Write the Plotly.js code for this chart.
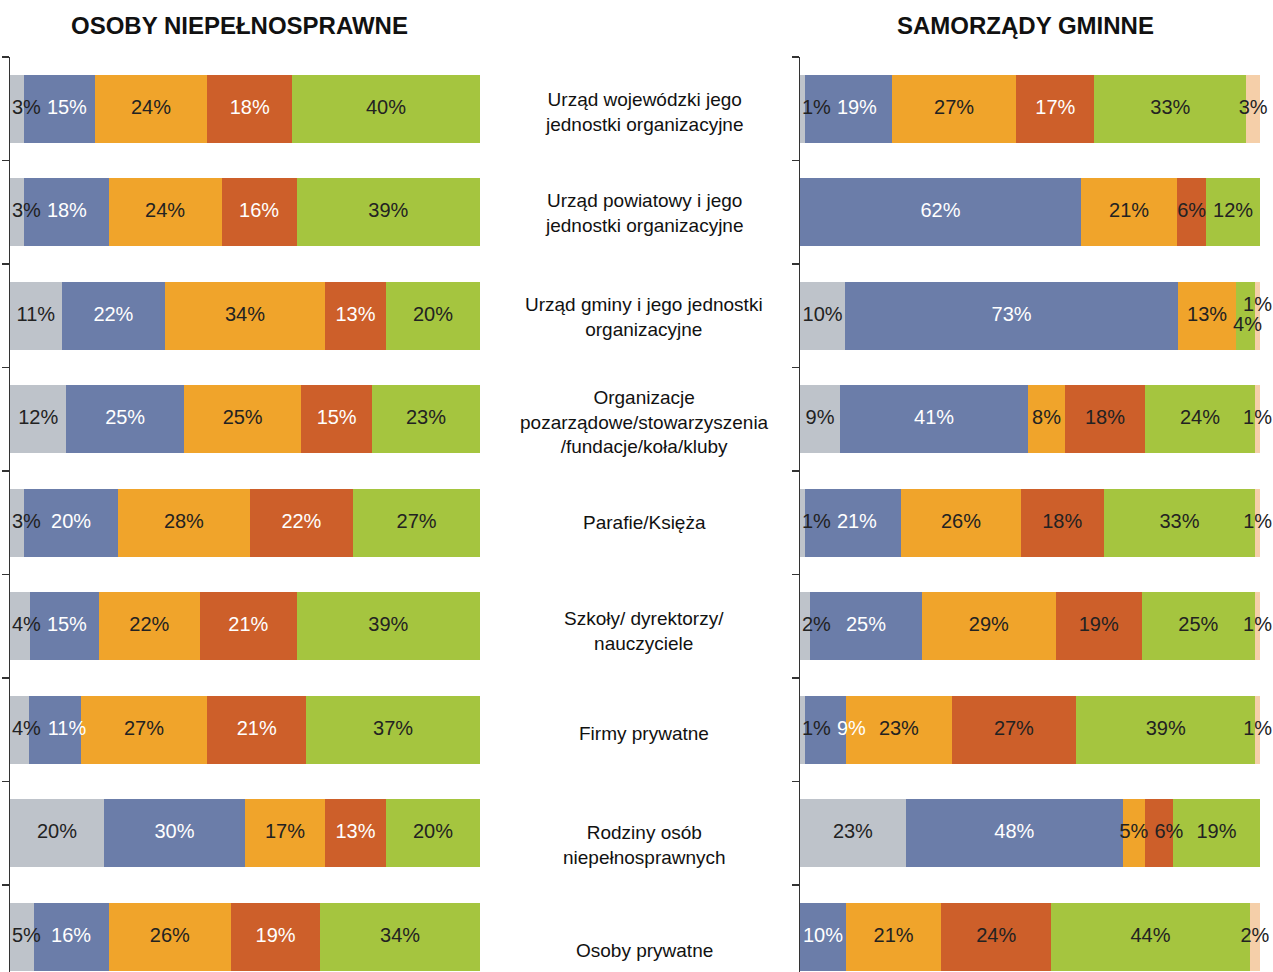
<!DOCTYPE html>
<html>
<head>
<meta charset="utf-8">
<script src="https://cdn.plot.ly/plotly-3.0.1.min.js"></script>
<style>html,body{margin:0;padding:0;background:#fff;}#chart{width:1273px;height:972px;}</style>
</head>
<body>
<div id="chart"></div>
<script>
// Category labels (middle column)
const categories = [
  "Urząd wojewódzki jego<br>jednostki organizacyjne",
  "Urząd powiatowy i jego<br>jednostki organizacyjne",
  "Urząd gminy i jego jednostki<br>organizacyjne",
  "Organizacje<br>pozarządowe/stowarzyszenia<br>/fundacje/koła/kluby",
  "Parafie/Księża",
  "Szkoły/ dyrektorzy/<br>nauczyciele",
  "Firmy prywatne",
  "Rodziny osób<br>niepełnosprawnych",
  "Osoby prywatne"
];
const panelTitles = ["OSOBY NIEPEŁNOSPRAWNE", "SAMORZĄDY GMINNE"];

// Left panel: OSOBY NIEPEŁNOSPRAWNE (segment widths, %)
const leftGrey   = [3, 3, 11, 12, 3, 4.2, 4, 20, 5];
const leftBlue   = [15, 18, 22, 25, 20, 14.7, 11, 30, 16];
const leftOrange = [24, 24, 34, 25, 28, 21.5, 27, 17, 26];
const leftRed    = [18, 16, 13, 15, 22, 20.6, 21, 13, 19];
const leftGreen  = [40, 39, 20, 23, 27, 39, 37, 20, 34];
// printed labels
const leftGreyLbl   = ["3%","3%","11%","12%","3%","4%","4%","20%","5%"];
const leftBlueLbl   = ["15%","18%","22%","25%","20%","15%","11%","30%","16%"];
const leftOrangeLbl = ["24%","24%","34%","25%","28%","22%","27%","17%","26%"];
const leftRedLbl    = ["18%","16%","13%","15%","22%","21%","21%","13%","19%"];
const leftGreenLbl  = ["40%","39%","20%","23%","27%","39%","37%","20%","34%"];

// Right panel: SAMORZĄDY GMINNE (segment widths, %)
const rightGrey   = [1, 0, 9.8, 8.7, 1, 2.2, 1, 23, 0];
const rightBlue   = [19, 61.1, 72.4, 40.9, 21, 24.3, 9, 47.2, 10];
const rightOrange = [27, 20.9, 12.6, 8.0, 26, 29.1, 23, 4.8, 20.7];
const rightRed    = [17, 6.3, 0, 17.4, 18, 18.7, 27, 6.1, 23.9];
const rightGreen  = [33, 11.7, 4.1, 23.9, 33, 24.6, 39, 18.9, 43.2];
const rightPeach  = [3, 0, 1.1, 1.1, 1, 1.1, 1, 0, 2.2];
// printed labels
const rightGreyLbl   = ["1%","","10%","9%","1%","2%","1%","23%",""];
const rightBlueLbl   = ["19%","62%","73%","41%","21%","25%","9%","48%","10%"];
const rightOrangeLbl = ["27%","21%","13%","8%","26%","29%","23%","5%","21%"];
const rightRedLbl    = ["17%","6%","","18%","18%","19%","27%","6%","24%"];
const rightGreenLbl  = ["33%","12%","4%","24%","33%","25%","39%","19%","44%"];
const rightPeachLbl  = ["3%","","1%","1%","1%","1%","1%","","2%"];

const C = {grey:"#BEC3CA", blue:"#6B7DA9", orange:"#F0A42B", red:"#CD5F2A", green:"#A5C53F", peach:"#F5CFA9"};
const DARK = "#222222", WHITE = "#FFFFFF";
const FONT = "'Liberation Sans', Arial, sans-serif";
const LBL_SIZE = 20;

const W = 1273, H = 972;
const LEFT_DOM = [10, 480], RIGHT_DOM = [800, 1260];
const pos = categories.map((_, i) => i);

function bar(vals, color, xa, ya) {
  return {
    type: "bar", orientation: "h",
    x: vals, y: pos, xaxis: xa, yaxis: ya,
    width: 0.66,
    marker: {color: color, line: {width: 0}},
    hoverinfo: "none", showlegend: false
  };
}

// Label layer: positioned at segment centres (from data), nudged to avoid overlaps
function labels(series, xa, ya, dom) {
  const ppu = (dom[1] - dom[0]) / 100;
  const GAP = 6;
  const xs = [], ys = [], ts = [], tp = [], tc = [];
  const textW = s => (s.length - 1) * 11.1 + 17.8;
  for (let i = 0; i < pos.length; i++) {
    let cum = 0, prevRight = 2 / ppu - GAP / ppu, prevIdx = -1;
    series.forEach(s => {
      const v = s.vals[i], t = s.lbl[i];
      const center = cum + v / 2;
      cum += v;
      if (!t) return;
      const hw = textW(t) / 2 / ppu;
      let x = Math.max(center, prevRight + GAP / ppu + hw);
      let p = "middle center";
      if (x > center + 0.01 && x + hw > 100 + 10 / ppu && prevIdx >= 0) {
        x = center; p = "top center";
        tp[prevIdx] = "bottom center";
      }
      xs.push(x); ys.push(i); ts.push(t); tp.push(p);
      tc.push(Array.isArray(s.col) ? s.col[i] : s.col);
      prevIdx = xs.length - 1;
      prevRight = x + hw;
    });
  }
  return {
    type: "scatter", mode: "text", x: xs, y: ys, text: ts,
    textposition: tp, xaxis: xa, yaxis: ya,
    textfont: {family: FONT, size: LBL_SIZE, color: tc},
    cliponaxis: false, hoverinfo: "none", showlegend: false
  };
}

const rightRedTextCol = [WHITE, DARK, DARK, DARK, DARK, DARK, DARK, DARK, DARK];

const leftSeries = [
  {vals: leftGrey, lbl: leftGreyLbl, color: C.grey, col: DARK},
  {vals: leftBlue, lbl: leftBlueLbl, color: C.blue, col: WHITE},
  {vals: leftOrange, lbl: leftOrangeLbl, color: C.orange, col: DARK},
  {vals: leftRed, lbl: leftRedLbl, color: C.red, col: WHITE},
  {vals: leftGreen, lbl: leftGreenLbl, color: C.green, col: DARK}
];
const rightSeries = [
  {vals: rightGrey, lbl: rightGreyLbl, color: C.grey, col: DARK},
  {vals: rightBlue, lbl: rightBlueLbl, color: C.blue, col: WHITE},
  {vals: rightOrange, lbl: rightOrangeLbl, color: C.orange, col: DARK},
  {vals: rightRed, lbl: rightRedLbl, color: C.red, col: rightRedTextCol},
  {vals: rightGreen, lbl: rightGreenLbl, color: C.green, col: DARK},
  {vals: rightPeach, lbl: rightPeachLbl, color: C.peach, col: DARK}
];

const data = [];
leftSeries.forEach(s => data.push(bar(s.vals, s.color, "x", "y")));
rightSeries.forEach(s => data.push(bar(s.vals, s.color, "x2", "y2")));
data.push(labels(leftSeries, "x", "y", LEFT_DOM));
data.push(labels(rightSeries, "x2", "y2", RIGHT_DOM));

const tickPos = [];
for (let i = 0; i <= categories.length; i++) tickPos.push(i - 0.5);

function yax(anchor) {
  return {
    anchor: anchor, domain: [0, 1],
    range: [8.34, -0.5], autorange: false,
    tickvals: tickPos, ticks: "outside", ticklen: 7, tickwidth: 1.5, tickcolor: "#333",
    showticklabels: false, showgrid: false, zeroline: false,
    showline: true, linecolor: "#333", linewidth: 1.5, fixedrange: true
  };
}
function xax(anchor, d) {
  return {
    anchor: anchor, domain: [d[0] / W, d[1] / W], range: [0, 100], autorange: false,
    visible: false, showgrid: false, zeroline: false, fixedrange: true
  };
}

const catShift = [-3, -1, -1, -3, 0, -5, -4, -12, -14];
const annotations = categories.map((c, i) => ({
  xref: "paper", yref: "y", x: 644 / W, y: i, yshift: catShift[i],
  text: c, showarrow: false, align: "center",
  xanchor: "center", yanchor: "middle",
  font: {family: FONT, size: 19, color: "#111"}
}));
[[239, panelTitles[0]], [1025, panelTitles[1]]].forEach(([cx, t]) => annotations.push({
  xref: "paper", yref: "paper", x: cx / W, y: 1, yshift: 32, xanchor: "center", yanchor: "middle",
  text: "<b>" + t + "</b>", showarrow: false,
  font: {family: FONT, size: 24, color: "#111"}
}));

const layout = {
  width: W, height: H,
  margin: {l: 0, r: 0, t: 57, b: 0, pad: 0},
  paper_bgcolor: "#fff", plot_bgcolor: "#fff",
  barmode: "stack", bargap: 0,
  xaxis: xax("y", LEFT_DOM),
  yaxis: yax("x"),
  xaxis2: xax("y2", RIGHT_DOM),
  yaxis2: yax("x2"),
  annotations: annotations,
  showlegend: false
};

Plotly.newPlot("chart", data, layout, {displayModeBar: false, staticPlot: true});
</script>
</body>
</html>
